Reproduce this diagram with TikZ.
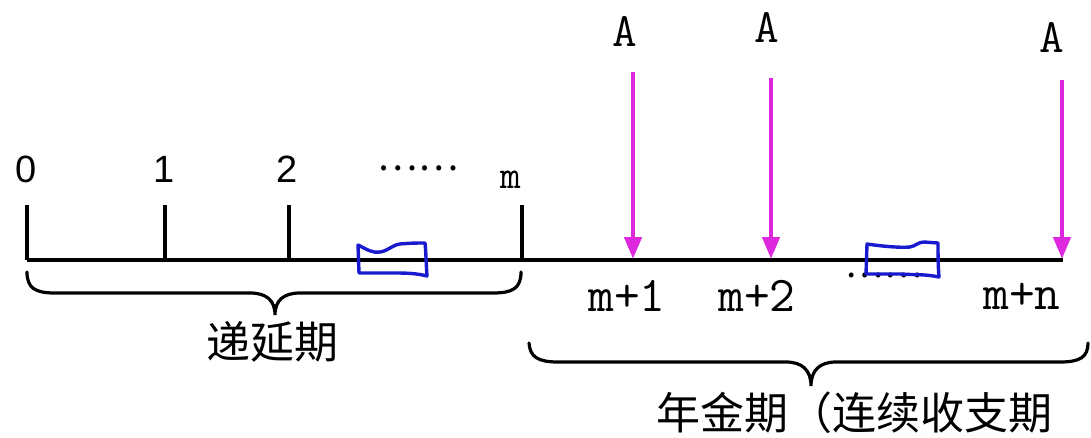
\documentclass[tikz,border=0pt]{standalone}
\usepackage{fontspec}
\newfontfamily\cjk{Noto Sans CJK SC}
\newfontfamily\sansf{Liberation Sans}
\usetikzlibrary{arrows.meta}
\definecolor{mag}{RGB}{222,40,222}
\definecolor{wblue}{RGB}{25,25,205}
\tikzset{
  axis/.style={line width=3.8pt, black},
  brace/.style={line width=3.2pt, black, line cap=round},
  wavy/.style={line width=3.4pt, wblue, line join=round},
  arr/.style={line width=4.6pt, mag, -{Triangle[width=17pt,length=22pt]}},
  digit/.style={inner sep=0pt, font=\sansf\fontsize{38}{38}\selectfont},
  lab/.style={inner sep=0pt, font=\ttfamily\fontsize{50}{50}\selectfont},
  amt/.style={inner sep=0pt, font=\ttfamily\fontsize{48}{48}\selectfont},
  cn/.style={inner sep=0pt, font=\cjk\fontsize{44}{44}\selectfont},
}
\begin{document}
\begin{tikzpicture}[x=1pt,y=-1pt]
\useasboundingbox (0,0) rectangle (1091,437);
% axis
\coordinate (start) at (27,260);
\coordinate (end) at (1063,260);
\draw[axis] (start) -- (end);
% ticks
\coordinate (t0) at (27,260);  \coordinate (t0u) at (27,205);
\coordinate (t1) at (165,260); \coordinate (t1u) at (165,205);
\coordinate (t2) at (289,260); \coordinate (t2u) at (289,205);
\coordinate (tm) at (522,260); \coordinate (tmu) at (522,205);
\draw[axis] (t0) -- (t0u);
\draw[axis] (t1) -- (t1u);
\draw[axis] (t2) -- (t2u);
\draw[axis] (tm) -- (tmu);
% labels above ticks
\node[digit] (l0) at (26,169) {0};
\node[digit] (l1) at (164,169) {1};
\node[digit] (l2) at (287,169) {2};
\node[inner sep=0pt, font=\cjk\fontsize{38}{38}\selectfont] (ldots) at (418,168) {……};
\node[inner sep=0pt, font=\ttfamily\fontsize{40}{40}\selectfont] (lm) at (511,180) {m};
% dots partly hidden by second box
\node[inner sep=0pt, font=\cjk\fontsize{36}{36}\selectfont] (rdots) at (884,275.5) {……};
% wavy boxes
\draw[wavy] (358,245) .. controls (368,250) and (372,253) .. (380,252)
  .. controls (388,251) and (392,245) .. (400,244)
  .. controls (410,243) and (418,243) .. (425,243)
  .. controls (426,252) and (426,262) .. (427,276)
  .. controls (415,273) and (405,273) .. (392,273)
  -- (359,273) -- cycle;
\draw[wavy] (867,244) .. controls (880,246) and (900,248) .. (910,247)
  .. controls (916,246) and (918,242) .. (924,242)
  -- (938,243)
  .. controls (938,255) and (938,265) .. (939,277)
  .. controls (925,274) and (915,275) .. (900,274)
  -- (866,274) -- cycle;
% arrows
\coordinate (a1u) at (633,72);  \coordinate (a1d) at (633,259);
\coordinate (a2u) at (771,78);  \coordinate (a2d) at (771,259);
\coordinate (a3u) at (1062,80); \coordinate (a3d) at (1062,259);
\draw[arr] (a1u) -- (a1d);
\draw[arr] (a2u) -- (a2d);
\draw[arr] (a3u) -- (a3d);
\node[amt] (A1) at (625,31) {A};
\node[amt] (A2) at (767,27) {A};
\node[amt] (A3) at (1052,37) {A};
% labels below axis
\node[lab] (m1) at (627,296) {m+1};
\node[lab] (m2) at (757,296) {m+2};
\node[lab] (mn) at (1022,296) {m+n};
% braces
\coordinate (b1l) at (27,272);
\coordinate (b1t) at (275,315);
\coordinate (b1r) at (521,272);
\draw[brace] (b1l) .. controls (27,288) and (35,293) .. (55,293) -- (250,293)
  .. controls (266,293) and (275,300) .. (b1t)
  .. controls (275,300) and (284,293) .. (300,293) -- (493,293)
  .. controls (513,293) and (521,288) .. (b1r);
\coordinate (b2l) at (529,343);
\coordinate (b2t) at (811,386);
\coordinate (b2r) at (1088,343);
\draw[brace] (b2l) .. controls (530,357) and (538,362) .. (558,362) -- (786,362)
  .. controls (802,362) and (811,370) .. (b2t)
  .. controls (811,370) and (820,362) .. (836,362) -- (1060,362)
  .. controls (1080,362) and (1088,357) .. (b2r);
\node[cn] (d1) at (272,342) {递延期};
\node[cn] (d2) at (854,413) {年金期（连续收支期};
\end{tikzpicture}
\end{document}
